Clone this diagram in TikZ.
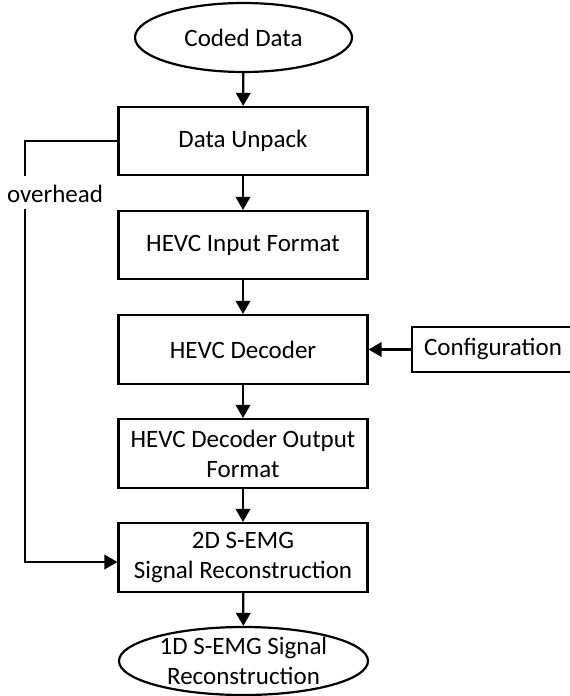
\documentclass[tikz,border=0pt]{standalone}
\usepackage{fontspec}
\setmainfont{Carlito}
\usetikzlibrary{shapes.geometric,arrows.meta}
\begin{document}
\begin{tikzpicture}[x=1pt,y=1pt,
  every node/.style={font=\fontsize{25}{30}\selectfont, text=black},
  box/.style={draw, line width=2.2pt, rectangle, minimum width=249pt, minimum height=68pt, inner sep=0pt, align=center},
  oval/.style={draw, line width=2.2pt, ellipse, inner sep=0pt, align=center},
  arr/.style={line width=2.2pt, -{Triangle[length=13pt,width=14.5pt]}}]
\useasboundingbox (0,0) rectangle (570,-696);
\node[oval, minimum width=217pt, minimum height=69pt] (coded) at (243.5,-37.5) {Coded Data};
\node[box] (unpack) at (243,-141) {Data Unpack};
\node[box] (input) at (243,-245) {HEVC Input Format};
\node[box, minimum height=69pt] (decoder) at (243,-349.5) {HEVC Decoder};
\node[box, minimum width=162pt, minimum height=45pt] (config) at (493,-349.5) {Configuration};
\node[box, minimum height=69pt] (output) at (243,-453.5) {HEVC Decoder Output\\Format};
\node[box, minimum height=69pt] (r2d) at (243,-557.5) {2D S-EMG\\Signal Reconstruction};
\node[oval, minimum width=249pt, minimum height=68pt] (r1d) at (243.5,-661) {1D S-EMG Signal\\Reconstruction};
\coordinate (c1) at (25,-141);
\coordinate (c2) at (25,-562);
\draw[arr] (coded) -- (unpack);
\draw[arr] (unpack) -- (input);
\draw[arr] (input) -- (decoder);
\draw[arr] (decoder) -- (output);
\draw[arr] (output) -- (r2d);
\draw[arr] (r2d) -- (r1d);
\draw[arr] (config) -- (decoder);
\draw[arr] (unpack.west) -- (c1) -- (c2) -- (r2d.west |- c2);
\fill[white] (10,-176) rectangle (40,-209);
\node[anchor=base, inner sep=0pt] (ovh) at (55,-202) {overhead};
\end{tikzpicture}
\end{document}
